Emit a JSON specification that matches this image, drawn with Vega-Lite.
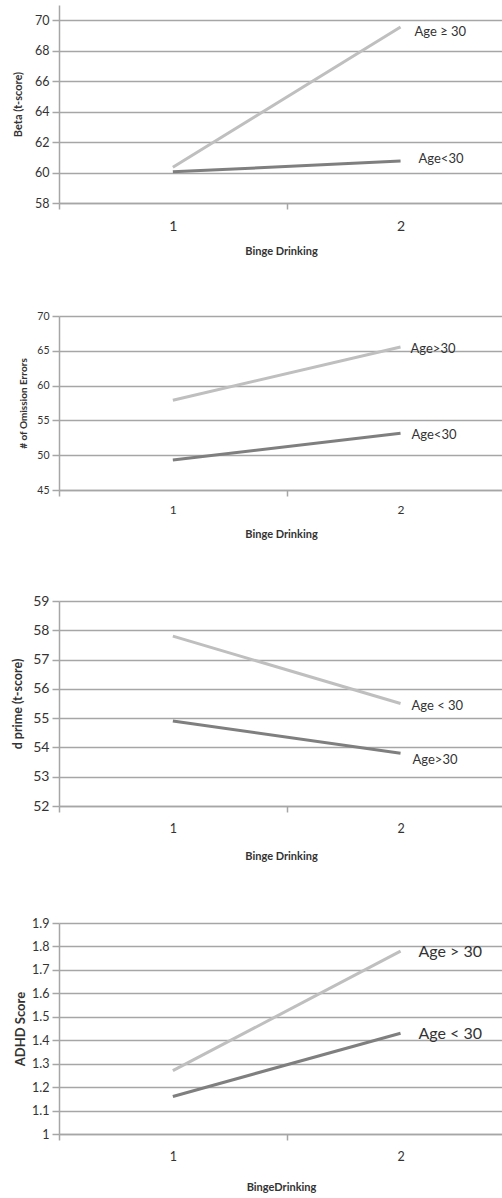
{
  "$schema": "https://vega.github.io/schema/vega-lite/v6.json",
  "padding": {"left": 11, "top": 5, "right": 0, "bottom": 0},
  "spacing": 55,
  "background": "white",
  "config": {
    "view": {"stroke": null},
    "font": "Lato",
    "axis": {
      "domainColor": "#a6a6a6", "gridColor": "#a6a6a6", "tickColor": "#a6a6a6",
      "domainWidth": 1.5, "gridWidth": 1.5, "tickWidth": 1.5,
      "labelColor": "#333333", "titleColor": "#333333",
      "labelFont": "Lato", "titleFont": "Lato", "titleFontWeight": "bold",
      "labelOverlap": false, "labelBound": false, "labelFlush": false, "tickCount": 30
    },
    "axisY": {"grid": true, "tickSize": 7, "labelPadding": 3, "titlePadding": 8, "format": "~g"},
    "axisX": {"grid": false, "tickSize": 6, "labelPadding": 10, "titlePadding": 12, "format": "~g"},
    "text": {"font": "Lato", "color": "#333333"}
  },
  "resolve": {"scale": {"color": "independent"}},
  "datasets": {
    "p1": [
      {"bd": 1, "series": "Age ≥ 30", "value": 60.35},
      {"bd": 2, "series": "Age ≥ 30", "value": 69.55},
      {"bd": 1, "series": "Age<30", "value": 60.05},
      {"bd": 2, "series": "Age<30", "value": 60.75}
    ],
    "p2": [
      {"bd": 1, "series": "Age>30", "value": 57.9},
      {"bd": 2, "series": "Age>30", "value": 65.55},
      {"bd": 1, "series": "Age<30", "value": 49.3},
      {"bd": 2, "series": "Age<30", "value": 53.15}
    ],
    "p3": [
      {"bd": 1, "series": "Age < 30", "value": 57.8},
      {"bd": 2, "series": "Age < 30", "value": 55.5},
      {"bd": 1, "series": "Age>30", "value": 54.9},
      {"bd": 2, "series": "Age>30", "value": 53.8}
    ],
    "p4": [
      {"bd": 1, "series": "Age > 30", "value": 1.27},
      {"bd": 2, "series": "Age > 30", "value": 1.78},
      {"bd": 1, "series": "Age < 30", "value": 1.16},
      {"bd": 2, "series": "Age < 30", "value": 1.43}
    ]
  },
  "vconcat": [
    {
      "width": 444, "height": 198,
      "data": {"name": "p1"},
      "layer": [
        {
          "mark": {"type": "line", "strokeWidth": 3},
          "encoding": {
            "x": {"field": "bd", "type": "quantitative", "scale": {"domain": [0.5, 2.45], "nice": false, "zero": false},
              "axis": {"values": [0.5, 1, 1.5, 2], "tickCount": 30, "format": "~g", "labelExpr": "datum.value % 1 === 0 ? datum.label : ''",
                "tickOpacity": {"condition": {"test": "datum.value % 1 !== 0", "value": 1}, "value": 0},
                "labelFontSize": 14, "title": "Binge Drinking", "titleFontSize": 11}},
            "y": {"field": "value", "type": "quantitative", "scale": {"domain": [58, 71], "nice": false, "zero": false},
              "axis": {"values": [58, 60, 62, 64, 66, 68, 70], "tickCount": 30, "format": "d", "labelFontSize": 12.5, "titlePadding": 11, "title": "Beta (t-score)", "titleFontSize": 11}},
            "color": {"field": "series", "type": "nominal", "scale": {"domain": ["Age ≥ 30", "Age<30"], "range": ["#bfbfbf", "#7f7f7f"]}, "legend": null}
          }
        },
        {
          "transform": [{"filter": "datum.bd === 2 && datum.series === 'Age ≥ 30'"}],
          "mark": {"type": "text", "align": "left", "dx": 14, "dy": 5, "fontSize": 13},
          "encoding": {"x": {"field": "bd", "type": "quantitative"}, "y": {"field": "value", "type": "quantitative"}, "text": {"field": "series"}}
        },
        {
          "transform": [{"filter": "datum.bd === 2 && datum.series === 'Age<30'"}],
          "mark": {"type": "text", "align": "left", "dx": 18, "dy": -2, "fontSize": 13},
          "encoding": {"x": {"field": "bd", "type": "quantitative"}, "y": {"field": "value", "type": "quantitative"}, "text": {"field": "series"}}
        }
      ]
    },
    {
      "width": 444, "height": 174,
      "data": {"name": "p2"},
      "layer": [
        {
          "mark": {"type": "line", "strokeWidth": 3},
          "encoding": {
            "x": {"field": "bd", "type": "quantitative", "scale": {"domain": [0.5, 2.45], "nice": false, "zero": false},
              "axis": {"values": [0.5, 1, 1.5, 2], "tickCount": 30, "format": "~g", "labelExpr": "datum.value % 1 === 0 ? datum.label : ''",
                "tickOpacity": {"condition": {"test": "datum.value % 1 !== 0", "value": 1}, "value": 0},
                "labelFontSize": 12, "labelPadding": 8, "titlePadding": 13, "title": "Binge Drinking", "titleFontSize": 11}},
            "y": {"field": "value", "type": "quantitative", "scale": {"domain": [45, 70], "nice": false, "zero": false},
              "axis": {"values": [45, 50, 55, 60, 65, 70], "tickCount": 30, "format": "d", "labelFontSize": 10.5, "titlePadding": 8, "title": "# of Omission Errors", "titleFontSize": 10}},
            "color": {"field": "series", "type": "nominal", "scale": {"domain": ["Age>30", "Age<30"], "range": ["#bfbfbf", "#7f7f7f"]}, "legend": null}
          }
        },
        {
          "transform": [{"filter": "datum.bd === 2 && datum.series === 'Age>30'"}],
          "mark": {"type": "text", "align": "left", "dx": 10, "dy": 2, "fontSize": 13},
          "encoding": {"x": {"field": "bd", "type": "quantitative"}, "y": {"field": "value", "type": "quantitative"}, "text": {"field": "series"}}
        },
        {
          "transform": [{"filter": "datum.bd === 2 && datum.series === 'Age<30'"}],
          "mark": {"type": "text", "align": "left", "dx": 11, "dy": 2, "fontSize": 13},
          "encoding": {"x": {"field": "bd", "type": "quantitative"}, "y": {"field": "value", "type": "quantitative"}, "text": {"field": "series"}}
        }
      ]
    },
    {
      "width": 444, "height": 205,
      "data": {"name": "p3"},
      "layer": [
        {
          "mark": {"type": "line", "strokeWidth": 3},
          "encoding": {
            "x": {"field": "bd", "type": "quantitative", "scale": {"domain": [0.5, 2.45], "nice": false, "zero": false},
              "axis": {"values": [0.5, 1, 1.5, 2], "tickCount": 30, "format": "~g", "labelExpr": "datum.value % 1 === 0 ? datum.label : ''",
                "tickOpacity": {"condition": {"test": "datum.value % 1 !== 0", "value": 1}, "value": 0},
                "labelFontSize": 12.5, "titlePadding": 16, "title": "Binge Drinking", "titleFontSize": 11}},
            "y": {"field": "value", "type": "quantitative", "scale": {"domain": [52, 59], "nice": false, "zero": false},
              "axis": {"values": [52, 53, 54, 55, 56, 57, 58, 59], "tickCount": 30, "format": "d", "labelFontSize": 14, "title": "d prime (t-score)", "titleFontSize": 12.5}},
            "color": {"field": "series", "type": "nominal", "scale": {"domain": ["Age < 30", "Age>30"], "range": ["#bfbfbf", "#7f7f7f"]}, "legend": null}
          }
        },
        {
          "transform": [{"filter": "datum.bd === 2 && datum.series === 'Age < 30'"}],
          "mark": {"type": "text", "align": "left", "dx": 11, "dy": 2, "fontSize": 13},
          "encoding": {"x": {"field": "bd", "type": "quantitative"}, "y": {"field": "value", "type": "quantitative"}, "text": {"field": "series"}}
        },
        {
          "transform": [{"filter": "datum.bd === 2 && datum.series === 'Age>30'"}],
          "mark": {"type": "text", "align": "left", "dx": 12, "dy": 7, "fontSize": 13},
          "encoding": {"x": {"field": "bd", "type": "quantitative"}, "y": {"field": "value", "type": "quantitative"}, "text": {"field": "series"}}
        }
      ]
    },
    {
      "width": 444, "height": 211,
      "data": {"name": "p4"},
      "layer": [
        {
          "mark": {"type": "line", "strokeWidth": 3},
          "encoding": {
            "x": {"field": "bd", "type": "quantitative", "scale": {"domain": [0.5, 2.45], "nice": false, "zero": false},
              "axis": {"values": [0.5, 1, 1.5, 2], "tickCount": 30, "format": "~g", "labelExpr": "datum.value % 1 === 0 ? datum.label : ''",
                "tickOpacity": {"condition": {"test": "datum.value % 1 !== 0", "value": 1}, "value": 0},
                "labelFontSize": 12.5, "titlePadding": 19, "title": "BingeDrinking", "titleFontSize": 11}},
            "y": {"field": "value", "type": "quantitative", "scale": {"domain": [1, 1.9], "nice": false, "zero": false},
              "axis": {"values": [1, 1.1, 1.2, 1.3, 1.4, 1.5, 1.6, 1.7, 1.8, 1.9], "tickCount": 30, "format": "~g", "labelFontSize": 12.5, "titlePadding": 4, "title": "ADHD Score", "titleFontSize": 13}},
            "color": {"field": "series", "type": "nominal", "scale": {"domain": ["Age > 30", "Age < 30"], "range": ["#bfbfbf", "#7f7f7f"]}, "legend": null}
          }
        },
        {
          "transform": [{"filter": "datum.bd === 2 && datum.series === 'Age > 30'"}],
          "mark": {"type": "text", "align": "left", "dx": 18, "dy": 1, "fontSize": 16},
          "encoding": {"x": {"field": "bd", "type": "quantitative"}, "y": {"field": "value", "type": "quantitative"}, "text": {"field": "series"}}
        },
        {
          "transform": [{"filter": "datum.bd === 2 && datum.series === 'Age < 30'"}],
          "mark": {"type": "text", "align": "left", "dx": 18, "dy": 1, "fontSize": 16},
          "encoding": {"x": {"field": "bd", "type": "quantitative"}, "y": {"field": "value", "type": "quantitative"}, "text": {"field": "series"}}
        }
      ]
    }
  ]
}
